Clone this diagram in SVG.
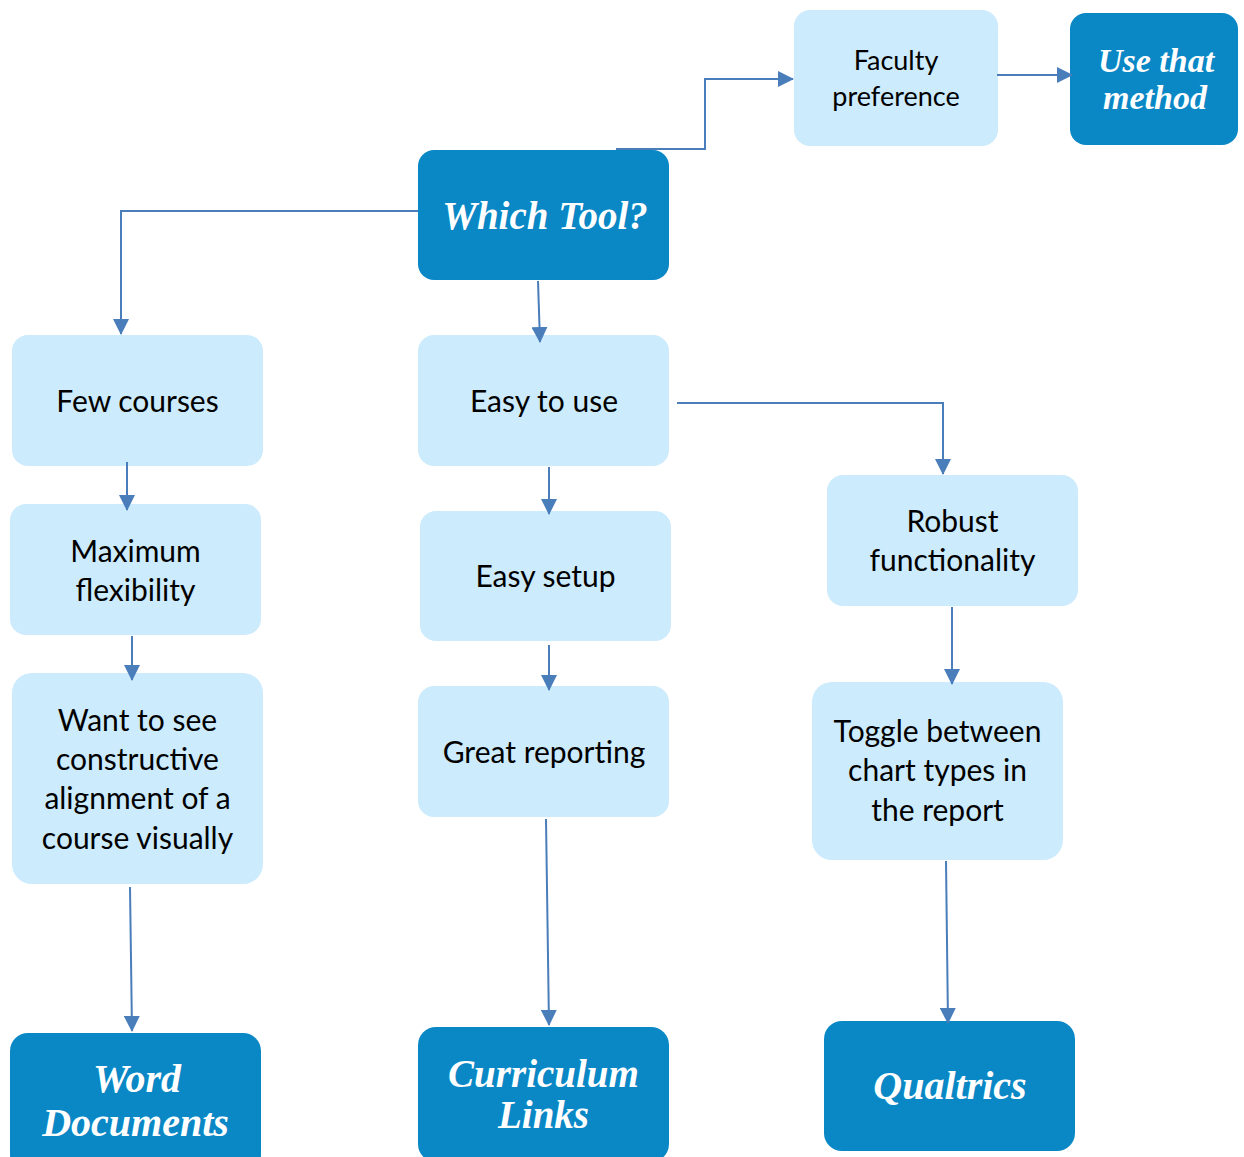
<svg xmlns="http://www.w3.org/2000/svg" width="1244" height="1157" viewBox="0 0 1244 1157">
<defs>
<style>
.lt{fill:#CCEBFC;}
.dk{fill:#0A88C6;}
.b{font-family:Lato,"Open Sans","Liberation Sans",sans-serif;font-size:30px;fill:#000;text-anchor:middle;}
.bs{font-size:27px;}
.t{font-family:"Liberation Serif","Times New Roman",serif;font-weight:bold;font-style:italic;fill:#fff;text-anchor:middle;font-size:39px;}
.c{fill:none;stroke:#4A7EBB;stroke-width:2;marker-end:url(#ah);}
</style>
<marker id="ah" markerUnits="userSpaceOnUse" markerWidth="17" markerHeight="16" refX="15" refY="8" orient="auto">
<path d="M0,0 L16,8 L0,16 Z" fill="#4A7EBB"/>
</marker>
</defs>
<rect width="1244" height="1157" fill="#fff"/>

<g id="faculty-preference">
<rect class="lt" x="794" y="10" width="204" height="136" rx="16"/>
<text class="b bs" x="896" y="70">Faculty</text>
<text class="b bs" x="896" y="106">preference</text>
</g>

<g id="use-that-method">
<rect class="dk" x="1070" y="13" width="168" height="132" rx="16"/>
<text class="t" x="1156" y="72" style="font-size:34px">Use that</text>
<text class="t" x="1155" y="109" style="font-size:34px">method</text>
</g>

<g id="which-tool">
<rect class="dk" x="418" y="150" width="251" height="130" rx="16"/>
<text class="t" x="545" y="229" style="font-size:39px">Which Tool?</text>
</g>

<g id="few-courses">
<rect class="lt" x="12" y="335" width="251" height="131" rx="16"/>
<text class="b" x="137.5" y="412">Few courses</text>
</g>

<g id="maximum-flexibility">
<rect class="lt" x="10" y="504" width="251" height="131" rx="16"/>
<text class="b" x="135.5" y="562">Maximum</text>
<text class="b" x="135.5" y="601">flexibility</text>
</g>

<g id="constructive-alignment">
<rect class="lt" x="12" y="673" width="251" height="211" rx="20"/>
<text class="b" x="137.5" y="731">Want to see</text>
<text class="b" x="137.5" y="770">constructive</text>
<text class="b" x="137.5" y="809">alignment of a</text>
<text class="b" x="137.5" y="849">course visually</text>
</g>

<g id="easy-to-use">
<rect class="lt" x="418" y="335" width="251" height="131" rx="16"/>
<text class="b" x="544" y="412">Easy to use</text>
</g>

<g id="easy-setup">
<rect class="lt" x="420" y="511" width="251" height="130" rx="16"/>
<text class="b" x="545.5" y="587">Easy setup</text>
</g>

<g id="great-reporting">
<rect class="lt" x="418" y="686" width="251" height="131" rx="16"/>
<text class="b" x="544" y="763">Great reporting</text>
</g>

<g id="robust-functionality">
<rect class="lt" x="827" y="475" width="251" height="131" rx="16"/>
<text class="b" x="952.5" y="532">Robust</text>
<text class="b" x="952.5" y="571">functionality</text>
</g>

<g id="toggle-chart-types">
<rect class="lt" x="812" y="682" width="251" height="178" rx="20"/>
<text class="b" x="937.5" y="742">Toggle between</text>
<text class="b" x="937.5" y="781">chart types in</text>
<text class="b" x="937.5" y="821">the report</text>
</g>

<g id="word-documents">
<rect class="dk" x="10" y="1033" width="251" height="140" rx="18"/>
<text class="t" x="137" y="1092" style="font-size:40px">Word</text>
<text class="t" x="135.5" y="1136" style="font-size:40px">Documents</text>
</g>

<g id="curriculum-links">
<rect class="dk" x="418" y="1027" width="251" height="135" rx="18"/>
<text class="t" x="543.5" y="1087">Curriculum</text>
<text class="t" x="543.5" y="1128">Links</text>
</g>

<g id="qualtrics">
<rect class="dk" x="824" y="1021" width="251" height="130" rx="18"/>
<text class="t" x="950" y="1099" style="font-size:40px">Qualtrics</text>
</g>

<g id="connectors">
<path class="c" d="M616,149 H705 V79 H793"/>
<path class="c" d="M997,75 H1072"/>
<path class="c" d="M418,211 H121 V334"/>
<path class="c" d="M538,281 L540,342"/>
<path class="c" d="M677,403 H943 V474"/>
<path class="c" d="M127,462 V510"/>
<path class="c" d="M132,636 V680"/>
<path class="c" d="M549,467 V514"/>
<path class="c" d="M549,645 V690"/>
<path class="c" d="M546,819 L549,1025"/>
<path class="c" d="M130,887 L132,1031"/>
<path class="c" d="M952,607 V684"/>
<path class="c" d="M946,861 L948,1023"/>
</g>
</svg>
